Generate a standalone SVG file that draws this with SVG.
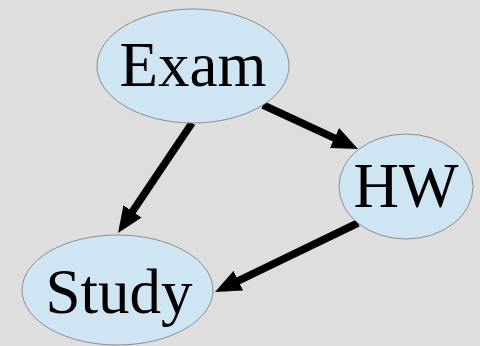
<svg xmlns="http://www.w3.org/2000/svg" width="480" height="346" viewBox="0 0 480 346">
<style>
.node ellipse{fill:#cfe5f3;stroke:#8c8c8c;stroke-width:1}
.node text{font-family:"Liberation Serif","Times New Roman",serif;font-size:63px;fill:#000;text-anchor:middle}
.edge{stroke:#000;stroke-width:7.5;fill:none;marker-end:url(#ah)}
</style>
<defs>
<marker id="ah" viewBox="0 0 26 22" refX="6" refY="11" markerWidth="26" markerHeight="22" markerUnits="userSpaceOnUse" orient="auto">
<path d="M0,0 L26,11 L0,22 z" fill="#000"/>
</marker>
</defs>
<rect width="480" height="346" fill="#dedede"/>
<g id="connectors">
<line class="edge" x1="192" y1="123" x2="129.2" y2="216.4"/>
<line class="edge" x1="263" y1="105" x2="339.9" y2="140.6"/>
<line class="edge" x1="358" y1="223" x2="233" y2="283.3"/>
</g>
<g id="exam" class="node"><ellipse cx="193" cy="66" rx="96" ry="57"/><text x="193" y="86">Exam</text></g>
<g id="hw" class="node"><ellipse cx="406" cy="186.5" rx="67" ry="52.5"/><text x="406" y="207">HW</text></g>
<g id="study" class="node"><ellipse cx="117.5" cy="290" rx="95.5" ry="55"/><text x="119" y="313">Study</text></g>
</svg>
